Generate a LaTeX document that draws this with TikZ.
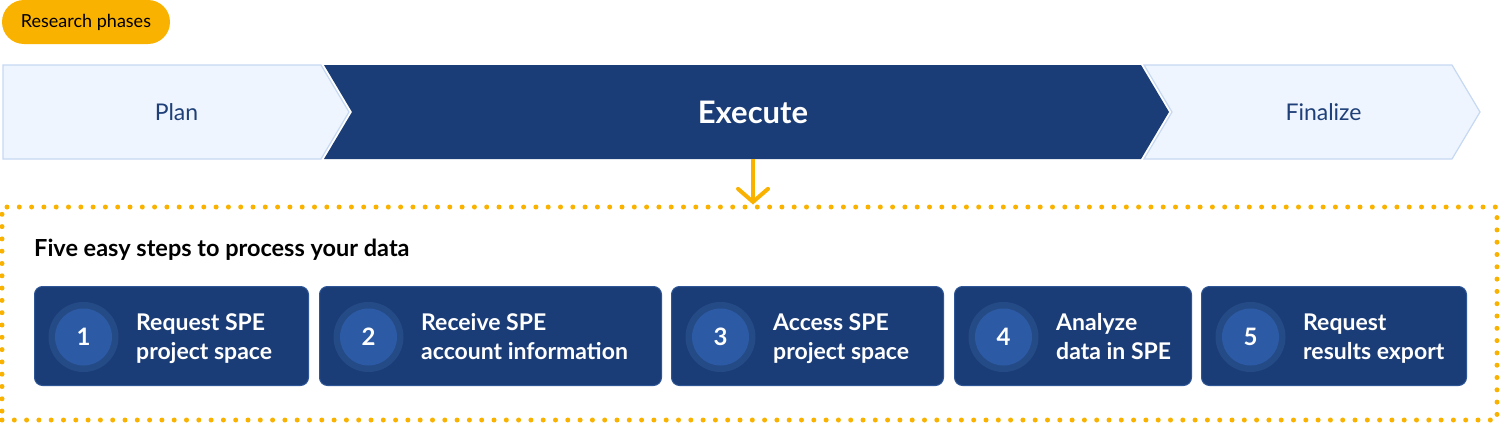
\documentclass[tikz,border=0pt]{standalone}
\usepackage{fontspec}
\setmainfont{Lato}
\usetikzlibrary{calc,arrows.meta}
\definecolor{navy}{HTML}{1B3D77}
\definecolor{navyline}{HTML}{2E5596}
\definecolor{lightfill}{HTML}{EFF5FE}
\definecolor{lightline}{HTML}{C6D8F2}
\definecolor{amber}{HTML}{F9B200}
\definecolor{ringc}{HTML}{254B87}
\definecolor{innerc}{HTML}{2C5AA5}
\definecolor{phasetext}{HTML}{1E3F78}
\newcommand\mystep[5]{%
  \node[stepbox, minimum width={#3-#2}, anchor=north west] (s#4) at (#2,286) {};
  \node[ringnode] (oc#4) at ($(s#4.west)+(49.5,1)$) {};
  \node[numnode] (c#4) at (oc#4) {#4};
  \node[steptext] (t#4) at (#2+102,359) {#5};
}
\begin{document}
\begin{tikzpicture}[x=1pt,y=-1pt,
  pill/.style={fill=amber, rounded corners=22pt, minimum width=168pt, minimum height=44pt, inner sep=0pt, font=\fontsize{18}{21}\selectfont, text=black},
  lightchev/.style={fill=lightfill, draw=lightline, line width=1.2pt},
  darkchev/.style={fill=navy},
  phaselabel/.style={font=\fontsize{23}{27}\selectfont, text=phasetext, inner sep=0pt},
  execlabel/.style={font=\bfseries\fontsize{31}{36}\selectfont, text=white, inner sep=0pt},
  dotbox/.style={draw=amber, line width=5pt, line cap=round, dash pattern=on 0pt off 12.3pt, minimum width=1495pt, minimum height=213pt, inner sep=0pt},
  arrowline/.style={draw=amber, line width=4pt, -{Straight Barb[length=13pt,width=30pt,line cap=round]}},
  titlelabel/.style={font=\bfseries\fontsize{23.5}{27}\selectfont, text=black, inner sep=0pt, anchor=west},
  stepbox/.style={fill=navy, draw=navyline, line width=1pt, rounded corners=8pt, minimum height=99pt, inner sep=0pt},
  ringnode/.style={circle, fill=ringc, minimum size=70pt, inner sep=0pt},
  numnode/.style={circle, fill=innerc, minimum size=57pt, inner sep=0pt, text=white, font=\bfseries\fontsize{24}{28}\selectfont},
  steptext/.style={anchor=base west, align=left, inner sep=0pt, text=white, font=\bfseries\fontsize{23}{29}\selectfont},
]
\useasboundingbox (0,0) rectangle (1500,423);
% pill
\node[pill] (pill) at (86,22) {Research phases};
% chevrons
\draw[lightchev] (3,65) -- (321,65) -- (349,112) -- (321,159) -- (3,159) -- cycle;
\fill[darkchev] (324,65) -- (1141,65) -- (1169,112) -- (1141,159) -- (324,159) -- (352,112) -- cycle;
\draw[lightchev] (1144,65) -- (1452,65) -- (1480,112) -- (1452,159) -- (1144,159) -- (1172,112) -- cycle;
\node[phaselabel] (plan) at (176.5,112) {Plan};
\node[execlabel] (exec) at (753,112) {Execute};
\node[phaselabel] (final) at (1323.5,112) {Finalize};
\coordinate (arrtop) at (753,159);
% dotted frame
\node[dotbox] (frame) at (749.5,313.5) {};
\draw[arrowline] (arrtop) -- (arrtop |- frame.north);
% title
\node[titlelabel] (title) at (34,250) {Five easy steps to process your data};
% steps
\mystep{s}{34}{308}{1}{Request SPE\\project space}
\mystep{s}{319}{661}{2}{Receive SPE\\account information}
\mystep{s}{671}{943}{3}{Access SPE\\project space}
\mystep{s}{954}{1191}{4}{Analyze\\data in SPE}
\mystep{s}{1201}{1466}{5}{Request\\results export}
\end{tikzpicture}
\end{document}
